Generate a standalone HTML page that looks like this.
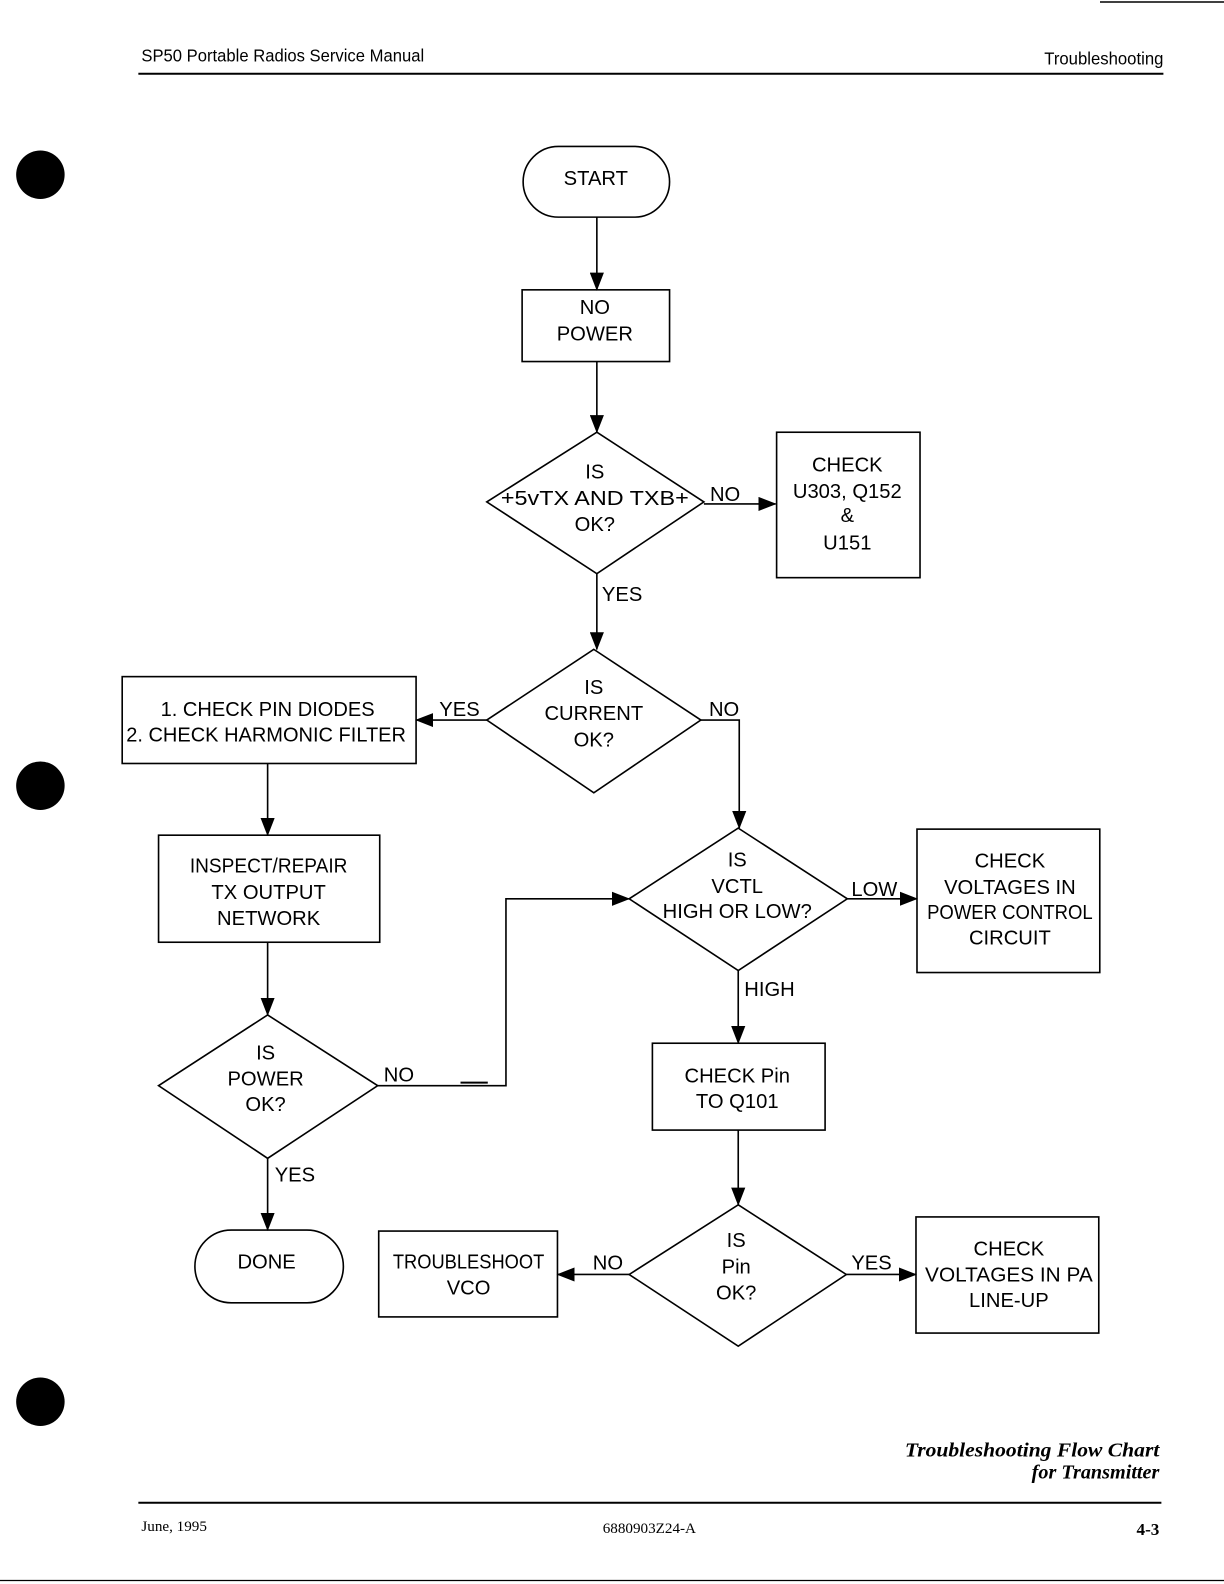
<!DOCTYPE html>
<html><head><meta charset="utf-8"><style>
html,body{margin:0;padding:0;background:#fff;}
svg{display:block;}
.t{font-family:"Liberation Sans",sans-serif;font-size:20px;fill:#000;text-anchor:middle;}
.l{font-family:"Liberation Sans",sans-serif;font-size:20px;fill:#000;}
.s{fill:none;stroke:#000;stroke-width:1.6;}
</style></head><body>
<svg width="1224" height="1584" viewBox="0 0 1224 1584" xmlns="http://www.w3.org/2000/svg">
<defs><marker id="a" markerWidth="18" markerHeight="14" refX="17" refY="7" orient="auto" markerUnits="userSpaceOnUse"><path d="M0,0 L18,7 L0,14 z" fill="#000"/></marker></defs>
<line x1="1100" y1="2" x2="1224" y2="2" stroke="#000" stroke-width="1.5"/>
<g transform="scale(1.0099)">
<text x="140" y="61" font-family="Liberation Sans,sans-serif" font-size="17" textLength="280" lengthAdjust="spacingAndGlyphs">SP50 Portable Radios Service Manual</text>
<text x="1152" y="64" font-family="Liberation Sans,sans-serif" font-size="17" text-anchor="end" textLength="118" lengthAdjust="spacingAndGlyphs">Troubleshooting</text>
<line x1="137" y1="73" x2="1152" y2="73" stroke="#000" stroke-width="2"/>
<circle cx="40" cy="173" r="24"/><circle cx="40" cy="778" r="24"/><circle cx="40" cy="1388" r="24"/>

<rect class="s" x="518" y="145" width="145" height="70" rx="35"/>
<text class="t" x="590" y="183">START</text>
<line class="s" x1="591" y1="215" x2="591" y2="287" marker-end="url(#a)"/>
<rect class="s" x="517" y="287" width="146" height="71"/>
<text class="t" x="589" y="311">NO</text><text class="t" x="589" y="337">POWER</text>
<line class="s" x1="591" y1="358" x2="591" y2="428" marker-end="url(#a)"/>

<polygon class="s" points="591,428 697,497 591,568 482,497"/>
<text class="t" x="589" y="474">IS</text><text class="t" x="589" y="500" textLength="186" lengthAdjust="spacingAndGlyphs">+5vTX AND TXB+</text><text class="t" x="589" y="526">OK?</text>
<line class="s" x1="697" y1="499" x2="768" y2="499" marker-end="url(#a)"/>
<text class="l" x="703" y="496">NO</text>
<rect class="s" x="769" y="428" width="142" height="144"/>
<text class="t" x="839" y="467">CHECK</text><text class="t" x="839" y="493">U303, Q152</text><text class="t" x="839" y="517">&amp;</text><text class="t" x="839" y="544">U151</text>
<line class="s" x1="591" y1="568" x2="591" y2="643" marker-end="url(#a)"/>
<text class="l" x="596" y="595">YES</text>

<polygon class="s" points="588,643 694,713 588,785 482,713"/>
<text class="t" x="588" y="687">IS</text><text class="t" x="588" y="713">CURRENT</text><text class="t" x="588" y="739">OK?</text>
<line class="s" x1="482" y1="713" x2="412" y2="713" marker-end="url(#a)"/>
<text class="l" x="435" y="709">YES</text>
<rect class="s" x="121" y="670" width="291" height="86"/>
<text class="t" x="265" y="709" textLength="212" lengthAdjust="spacingAndGlyphs">1. CHECK PIN DIODES</text>
<text class="l" x="125" y="734" textLength="277" lengthAdjust="spacingAndGlyphs">2. CHECK HARMONIC FILTER</text>
<polyline class="s" points="694,713 732,713 732,820" marker-end="url(#a)"/>
<text class="l" x="702" y="709">NO</text>
<line class="s" x1="265" y1="756" x2="265" y2="827" marker-end="url(#a)"/>
<rect class="s" x="157" y="827" width="219" height="106"/>
<text class="t" x="266" y="864" textLength="156" lengthAdjust="spacingAndGlyphs">INSPECT/REPAIR</text><text class="t" x="266" y="890">TX OUTPUT</text><text class="t" x="266" y="916">NETWORK</text>
<line class="s" x1="265" y1="933" x2="265" y2="1005" marker-end="url(#a)"/>

<polygon class="s" points="265,1005 374,1075 265,1147 157,1075"/>
<text class="t" x="263" y="1049">IS</text><text class="t" x="263" y="1075">POWER</text><text class="t" x="263" y="1100">OK?</text>
<polyline class="s" points="374,1075 501,1075 501,890 623,890" marker-end="url(#a)"/>
<text class="l" x="380" y="1071">NO</text>
<line x1="456" y1="1072" x2="483" y2="1072" stroke="#000" stroke-width="2"/>
<line class="s" x1="265" y1="1147" x2="265" y2="1218" marker-end="url(#a)"/>
<text class="l" x="272" y="1170">YES</text>
<rect class="s" x="193" y="1218" width="147" height="72" rx="36"/>
<text class="t" x="264" y="1256">DONE</text>

<polygon class="s" points="731,820 839,890 731,961 623,890"/>
<text class="t" x="730" y="858">IS</text><text class="t" x="730" y="884">VCTL</text><text class="t" x="730" y="909">HIGH OR LOW?</text>
<line class="s" x1="839" y1="890" x2="908" y2="890" marker-end="url(#a)"/>
<text class="l" x="843" y="887">LOW</text>
<rect class="s" x="908" y="821" width="181" height="142"/>
<text class="t" x="1000" y="859">CHECK</text><text class="t" x="1000" y="885">VOLTAGES IN</text><text class="t" x="1000" y="910" textLength="164" lengthAdjust="spacingAndGlyphs">POWER CONTROL</text><text class="t" x="1000" y="935">CIRCUIT</text>
<line class="s" x1="731" y1="961" x2="731" y2="1033" marker-end="url(#a)"/>
<text class="l" x="737" y="986">HIGH</text>
<rect class="s" x="646" y="1033" width="171" height="86"/>
<text class="t" x="730" y="1072">CHECK Pin</text><text class="t" x="730" y="1097">TO Q101</text>
<line class="s" x1="731" y1="1119" x2="731" y2="1193" marker-end="url(#a)"/>

<polygon class="s" points="731,1193 838,1262 731,1333 623,1262"/>
<text class="t" x="729" y="1235">IS</text><text class="t" x="729" y="1261">Pin</text><text class="t" x="729" y="1287">OK?</text>
<line class="s" x1="623" y1="1262" x2="552" y2="1262" marker-end="url(#a)"/>
<text class="l" x="587" y="1257">NO</text>
<rect class="s" x="375" y="1219" width="177" height="85"/>
<text class="t" x="464" y="1256" textLength="150" lengthAdjust="spacingAndGlyphs">TROUBLESHOOT</text><text class="t" x="464" y="1282">VCO</text>
<line class="s" x1="838" y1="1262" x2="907" y2="1262" marker-end="url(#a)"/>
<text class="l" x="843" y="1257">YES</text>
<rect class="s" x="907" y="1205" width="181" height="115"/>
<text class="t" x="999" y="1243">CHECK</text><text class="t" x="999" y="1269" textLength="166" lengthAdjust="spacingAndGlyphs">VOLTAGES IN PA</text><text class="t" x="999" y="1294">LINE-UP</text>

<text x="1148" y="1442" font-family="Liberation Serif,serif" font-size="20" font-style="italic" font-weight="bold" text-anchor="end" textLength="252" lengthAdjust="spacingAndGlyphs">Troubleshooting Flow Chart</text>
<text x="1148" y="1464" font-family="Liberation Serif,serif" font-size="20" font-style="italic" font-weight="bold" text-anchor="end">for Transmitter</text>
<line x1="137" y1="1488" x2="1150" y2="1488" stroke="#000" stroke-width="2"/>
<text x="140" y="1516" font-family="Liberation Serif,serif" font-size="15">June, 1995</text>
<text x="643" y="1518" font-family="Liberation Serif,serif" font-size="15" text-anchor="middle">6880903Z24-A</text>
<text x="1148" y="1520" font-family="Liberation Serif,serif" font-size="17" font-weight="bold" text-anchor="end">4-3</text>
<line x1="0" y1="1565" x2="1212" y2="1565" stroke="#000" stroke-width="1.2"/>
</g>
</svg>
</body></html>
